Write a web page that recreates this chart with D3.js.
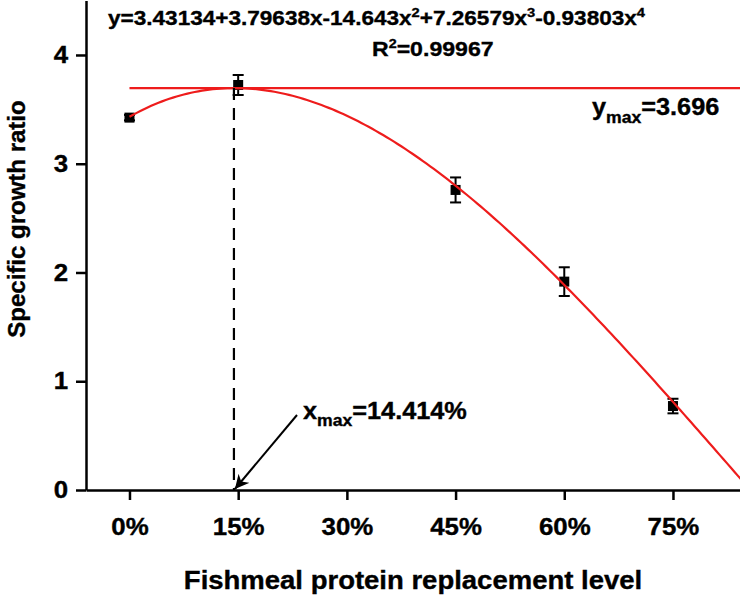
<!DOCTYPE html>
<html>
<head>
  <meta charset="utf-8" />
  <title>Specific growth ratio</title>
  <style>
    body { margin: 0; background: #fff; }
    svg text { font-family: "Liberation Sans", Arial, sans-serif; font-weight: bold; fill: #000; stroke: #000; stroke-width: 0.35px; }
  </style>
  <script src="https://cdnjs.cloudflare.com/ajax/libs/d3/7.8.5/d3.min.js"></script>
</head>
<body>
  <div id="chart"></div>
  <script>
    // replacement levels (fraction) and measured SGR
    var levels = [0, 0.15, 0.45, 0.60, 0.75];
    var sgrMean = [3.424, 3.724, 2.759, 1.916, 0.772];
    var sgrErr = [0.025, 0.092, 0.115, 0.132, 0.067];
    var xTicks = [0, 0.15, 0.30, 0.45, 0.60, 0.75];
    var yTicks = [0, 1, 2, 3, 4];
    // fitted polynomial y = c0 + c1 x + c2 x^2 + c3 x^3 + c4 x^4
    var coefs = [3.43134, 3.79638, -14.643, 7.26579, -0.93803];
    var xMax = 0.14414, yMax = 3.696;

    var W = 740, H = 596;
    var plotLeft = 86, plotRight = 740, plotTop = 0.6, plotBottom = 490;

    var x = d3.scaleLinear().domain([-0.06, 0.8425]).range([plotLeft, plotRight]);
    var y = d3.scaleLinear().domain([0, 4.5]).range([plotBottom, plotTop]);
    var red = '#ee1c1c';
    var sx = 1.1;

    var svg = d3.select('#chart').append('svg')
      .attr('width', W)
      .attr('height', H);

    var defs = svg.append('defs');
    defs.append('clipPath').attr('id', 'plot')
      .append('rect').attr('x', plotLeft).attr('y', 0)
      .attr('width', plotRight - plotLeft).attr('height', plotBottom);

    defs.append('marker')
      .attr('id', 'arrow')
      .attr('viewBox', '0 0 10 10')
      .attr('refX', 10).attr('refY', 5)
      .attr('markerWidth', 7).attr('markerHeight', 7)
      .attr('markerUnits', 'strokeWidth')
      .attr('orient', 'auto')
      .append('path').attr('d', 'M0,0L10,5L0,10L3,5z').attr('fill', '#000');

    // axes
    var xAxis = svg.append('g')
      .attr('transform', 'translate(0,' + plotBottom + ')')
      .call(d3.axisBottom(x).tickValues(xTicks).tickSize(10).tickSizeOuter(0).tickPadding(18)
        .tickFormat(d => Math.round(d * 100) + '%'));
    var yAxis = svg.append('g')
      .attr('transform', 'translate(' + plotLeft + ',0)')
      .call(d3.axisLeft(y).tickValues(yTicks).tickSize(10).tickSizeOuter(0).tickPadding(9)
        .tickFormat(d3.format('d')));

    [xAxis, yAxis].forEach(function (g) {
      g.select('.domain').attr('stroke', '#000').attr('stroke-width', 2.5);
      g.selectAll('.tick line').attr('stroke', '#000').attr('stroke-width', 2.5);
      g.selectAll('.tick text').attr('font-size', 23.5).attr('fill', '#000')
        .attr('font-family', '"Liberation Sans", Arial, sans-serif').attr('font-weight', 'bold');
    });
    xAxis.selectAll('.tick text').attr('transform', 'scale(' + sx + ',1)');
    yAxis.selectAll('.tick text').attr('transform', 'scale(' + sx + ',1)').attr('x', -18 / sx);

    // axis titles
    svg.append('text')
      .attr('transform', 'translate(' + ((plotLeft + plotRight) / 2) + ',589) scale(' + sx + ',1)')
      .attr('text-anchor', 'middle')
      .attr('font-size', 25)
      .text('Fishmeal protein replacement level');

    svg.append('text')
      .attr('transform', 'translate(25,219) rotate(-90)')
      .attr('text-anchor', 'middle')
      .attr('font-size', 24)
      .text('Specific growth ratio');

    // error bars and markers
    var pts = levels.map((l, i) => ({ x: l, y: sgrMean[i], e: sgrErr[i] }));
    var bars = svg.append('g').attr('stroke', '#000').attr('stroke-width', 2);
    bars.selectAll('line.v').data(pts).enter().append('line').attr('class', 'v')
      .attr('x1', d => x(d.x)).attr('x2', d => x(d.x))
      .attr('y1', d => y(d.y - d.e)).attr('y2', d => y(d.y + d.e));
    bars.selectAll('line.t').data(pts).enter().append('line').attr('class', 't')
      .attr('x1', d => x(d.x) - 5.5).attr('x2', d => x(d.x) + 5.5)
      .attr('y1', d => y(d.y + d.e)).attr('y2', d => y(d.y + d.e));
    bars.selectAll('line.b').data(pts).enter().append('line').attr('class', 'b')
      .attr('x1', d => x(d.x) - 5.5).attr('x2', d => x(d.x) + 5.5)
      .attr('y1', d => y(d.y - d.e)).attr('y2', d => y(d.y - d.e));
    svg.append('g').selectAll('rect').data(pts).enter().append('rect')
      .attr('x', d => x(d.x) - 5).attr('y', d => y(d.y) - 5)
      .attr('width', 10).attr('height', 10).attr('fill', '#000');

    // fitted curve
    var poly = t => coefs.reduce((s, c, k) => s + c * Math.pow(t, k), 0);
    var xs = d3.range(0, 0.86, 0.005);
    svg.append('path')
      .datum(xs)
      .attr('clip-path', 'url(#plot)')
      .attr('fill', 'none')
      .attr('stroke', red)
      .attr('stroke-width', 2.2)
      .attr('d', d3.line().x(d => x(d)).y(d => y(poly(d))));

    // y max line
    svg.append('line')
      .attr('x1', x(0)).attr('x2', plotRight)
      .attr('y1', y(yMax)).attr('y2', y(yMax))
      .attr('stroke', red).attr('stroke-width', 2.2);

    // x max dashed line
    svg.append('line')
      .attr('x1', x(xMax)).attr('x2', x(xMax))
      .attr('y1', y(yMax)).attr('y2', y(0))
      .attr('stroke', '#000').attr('stroke-width', 2.2)
      .attr('stroke-dasharray', '12,8');

    // arrow to x max
    svg.append('line')
      .attr('x1', 297).attr('y1', 415)
      .attr('x2', x(xMax) + 1).attr('y2', y(0) - 1)
      .attr('stroke', '#000').attr('stroke-width', 2)
      .attr('marker-end', 'url(#arrow)');

    // annotations
    var xm = svg.append('text')
      .attr('transform', 'translate(303,419) scale(' + sx + ',1)')
      .attr('font-size', 23);
    xm.append('tspan').text('x');
    xm.append('tspan').attr('font-size', 16).attr('dy', 7).text('max');
    xm.append('tspan').attr('dy', -7).text('=' + (xMax * 100).toFixed(3) + '%');

    var ym = svg.append('text')
      .attr('transform', 'translate(592,115) scale(' + sx + ',1)')
      .attr('font-size', 23);
    ym.append('tspan').text('y');
    ym.append('tspan').attr('font-size', 16).attr('dy', 8).text('max');
    ym.append('tspan').attr('dy', -8).text('=' + yMax.toFixed(3));

    var eq = svg.append('text')
      .attr('x', 108).attr('y', 25)
      .attr('font-size', 20)
      .attr('textLength', 537)
      .attr('lengthAdjust', 'spacingAndGlyphs');
    var eqParts = [['y=3.43134+3.79638x-14.643x', ''], ['2', 'sup'], ['+7.26579x', ''], ['3', 'sup'], ['-0.93803x', ''], ['4', 'sup']];
    eqParts.forEach(function (p, i) {
      var prev = i > 0 ? eqParts[i - 1][1] : '';
      var ts = eq.append('tspan').text(p[0]);
      if (p[1] === 'sup') ts.attr('font-size', 13).attr('dy', -8);
      else if (prev === 'sup') ts.attr('dy', 8);
    });

    var r2 = svg.append('text')
      .attr('transform', 'translate(372,56) scale(' + sx + ',1)')
      .attr('font-size', 21);
    r2.append('tspan').text('R');
    r2.append('tspan').attr('font-size', 13).attr('dy', -8).text('2');
    r2.append('tspan').attr('dy', 8).text('=0.99967');
  </script>
</body>
</html>
